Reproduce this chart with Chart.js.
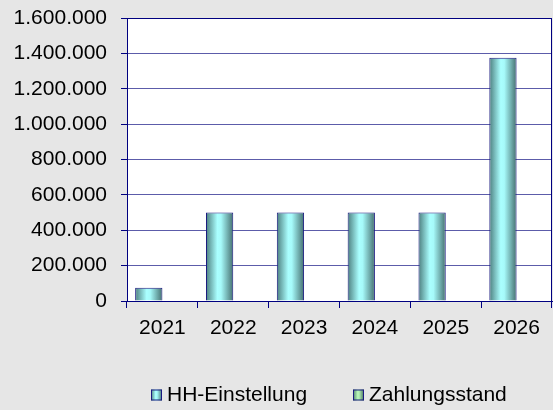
<!DOCTYPE html>
<html>
<head>
<meta charset="utf-8">
<script src="https://cdn.jsdelivr.net/npm/chart.js@4"></script>
<style>
html,body{margin:0;padding:0;background:#e6e6e6;}
#wrap{width:553px;height:410px;position:relative;}
</style>
</head>
<body>
<div id="wrap"><canvas id="c" width="553" height="410"></canvas></div>
<script>
const categories = ["2021", "2022", "2023", "2024", "2025", "2026"];
const seriesNames = ["HH-Einstellung", "Zahlungsstand"];
const hhEinstellung = [75000, 500000, 500000, 500000, 500000, 1375000];
const zahlungsstand = [0, 0, 0, 0, 0, 0];
const yTicks = [0, 200000, 400000, 600000, 800000, 1000000, 1200000, 1400000, 1600000];

const FONT = "'Liberation Sans', Arial, Helvetica, sans-serif";
const NAVY = "#000080";
const CAT_PCT = 0.77;
const gradStops = [
  [[0, "#4c7e7e"], [0.42, "#aaffff"], [0.55, "#a6fafa"], [1, "#456f6f"]],
  [[0, "#4c7e6a"], [0.42, "#b8f5b8"], [0.55, "#b4f0b4"], [1, "#456f5f"]]
];

function fmt(v) {
  return String(v).replace(/\B(?=(\d{3})+(?!\d))/g, ".");
}

function barFill(ctx) {
  const ds = ctx.datasetIndex;
  const chart = ctx.chart;
  const x = chart.scales && chart.scales.x;
  if (ctx.dataIndex === undefined || !x || !chart.chartArea) return gradStops[ds][1][1];
  const catW = x.width / categories.length;
  const center = x.getPixelForValue(ctx.dataIndex);
  const groupW = catW * CAT_PCT;
  const barW = groupW / 2;
  const left = center - groupW / 2 + ds * barW;
  const g = chart.ctx.createLinearGradient(left, 0, left + barW, 0);
  gradStops[ds].forEach(s => g.addColorStop(s[0], s[1]));
  return g;
}

const plotBg = {
  id: "plotBg",
  beforeDraw(chart) {
    const {ctx, chartArea: a} = chart;
    ctx.save();
    ctx.fillStyle = "#ffffff";
    ctx.fillRect(a.left, a.top, a.right - a.left, a.bottom - a.top);
    ctx.restore();
  },
  afterDraw(chart) {
    const {ctx, chartArea: a} = chart;
    ctx.save();
    ctx.strokeStyle = NAVY;
    ctx.lineWidth = 1;
    ctx.beginPath();
    ctx.moveTo(a.right - 0.5, a.top);
    ctx.lineTo(a.right - 0.5, a.bottom);
    ctx.moveTo(a.left, a.top + 0.5);
    ctx.lineTo(a.right, a.top + 0.5);
    ctx.stroke();
    // legend
    ctx.font = "21px " + FONT;
    ctx.textBaseline = "middle";
    ctx.fillStyle = "#000";
    const startX = 151, step = 202, y = 395, bs = 11;
    seriesNames.forEach((name, i) => {
      const bx = startX + i * step;
      const g = ctx.createLinearGradient(bx, 0, bx + bs, 0);
      gradStops[i].forEach(s => g.addColorStop(s[0], s[1]));
      ctx.fillStyle = g;
      ctx.fillRect(bx, y - bs / 2, bs, bs);
      ctx.strokeStyle = "#1a1a80";
      ctx.strokeRect(bx + 0.5, y - bs / 2 + 0.5, bs - 1, bs - 1);
      ctx.fillStyle = "#000";
      ctx.fillText(name, bx + bs + 5, y);
    });
    ctx.restore();
  }
};

new Chart(document.getElementById("c"), {
  type: "bar",
  data: {
    labels: categories,
    datasets: [
      {label: seriesNames[0], data: hhEinstellung, backgroundColor: barFill, borderColor: "#1a1a80", borderWidth: 1},
      {label: seriesNames[1], data: zahlungsstand, backgroundColor: barFill, borderColor: "#1a1a80", borderWidth: 0}
    ]
  },
  options: {
    responsive: false,
    animation: false,
    devicePixelRatio: 1,
    layout: {padding: {top: 18, right: 1, left: 0, bottom: 0}},
    datasets: {bar: {categoryPercentage: CAT_PCT, barPercentage: 1}},
    plugins: {legend: {display: false}, tooltip: {enabled: false}},
    scales: {
      x: {
        grid: {display: true, drawOnChartArea: false, drawTicks: true, tickLength: 7, color: NAVY, offset: true},
        border: {display: true, color: NAVY, width: 1},
        ticks: {color: "#000", font: {family: FONT, size: 21}, padding: 8},
        afterFit(s) { s.height = 109; s.paddingLeft = 0; s.paddingRight = 0; }
      },
      y: {
        min: 0, max: 1600000,
        afterBuildTicks(s) { s.ticks = yTicks.map(v => ({value: v})); },
        grid: {color: "#5c5caa", lineWidth: 1, drawTicks: true, tickLength: 6, tickColor: NAVY},
        border: {display: true, color: NAVY, width: 1},
        ticks: {color: "#000", font: {family: FONT, size: 21}, padding: 14, callback: v => fmt(v)},
        afterFit(s) { s.width = 127; s.paddingTop = 0; s.paddingBottom = 0; }
      }
    }
  },
  plugins: [plotBg]
});
</script>
</body>
</html>
